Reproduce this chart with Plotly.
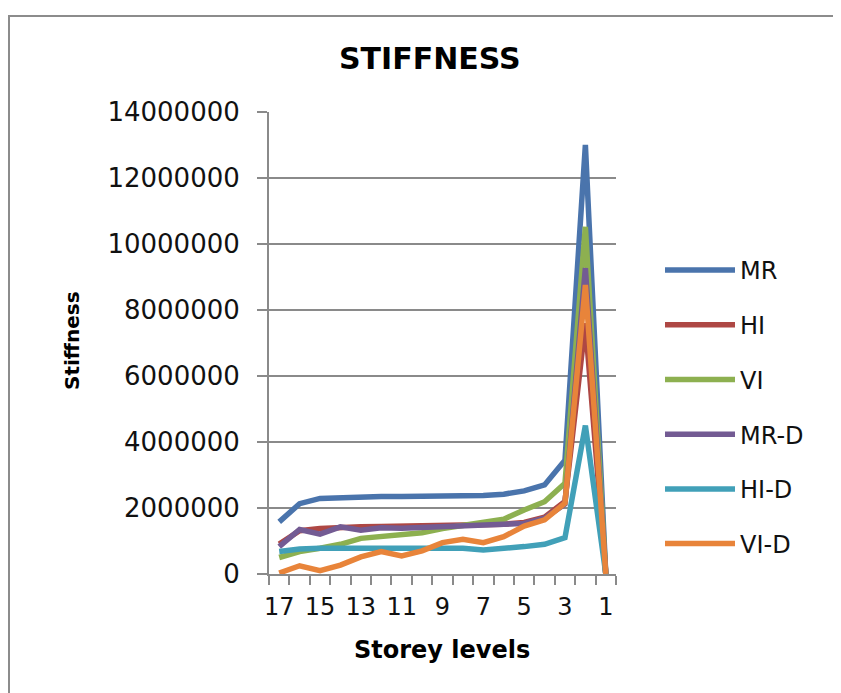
import plotly.graph_objects as go

storey = [17, 16, 15, 14, 13, 12, 11, 10, 9, 8, 7, 6, 5, 4, 3, 2, 1]

MR   = [1580000, 2130000, 2290000, 2320000, 2340000, 2350000, 2350000, 2350000, 2350000, 2360000, 2380000, 2420000, 2520000, 2700000, 3450000, 13000000, 0]
HI   = [910000, 1310000, 1380000, 1420000, 1430000, 1440000, 1450000, 1460000, 1470000, 1480000, 1490000, 1510000, 1560000, 1720000, 2200000, 7600000, 0]
VI   = [500000, 680000, 780000, 900000, 1080000, 1150000, 1200000, 1250000, 1380000, 1480000, 1550000, 1660000, 1940000, 2190000, 2750000, 10520000, 0]
MR_D = [830000, 1350000, 1210000, 1430000, 1330000, 1400000, 1390000, 1410000, 1430000, 1450000, 1460000, 1480000, 1530000, 1690000, 2120000, 9270000, 0]
HI_D = [680000, 760000, 780000, 780000, 770000, 760000, 760000, 760000, 770000, 780000, 730000, 770000, 830000, 900000, 1100000, 4500000, 0]
VI_D = [30000, 250000, 100000, 270000, 520000, 680000, 550000, 700000, 950000, 1050000, 950000, 1130000, 1450000, 1640000, 2150000, 8760000, 0]

series = [
    ("MR", MR, "#4A74AC"),
    ("HI", HI, "#AE4744"),
    ("VI", VI, "#8DB050"),
    ("MR-D", MR_D, "#735B93"),
    ("HI-D", HI_D, "#41A0B8"),
    ("VI-D", VI_D, "#E8843A"),
]

x_ticks = [17, 15, 13, 11, 9, 7, 5, 3, 1]
y_ticks = [0, 2000000, 4000000, 6000000, 8000000, 10000000, 12000000, 14000000]

fig = go.Figure()
for name, vals, col in series:
    fig.add_trace(go.Scatter(
        x=storey, y=vals, name=name, mode="lines",
        line=dict(color=col, width=5.5),
        legendgroup=name,
    ))

# the page body adds an 8px offset; work in window pixels and subtract it
OFF = 8
W, H = 841 - OFF, 693 - OFF
L, R, T, B = 269 - OFF, 616 - OFF, 112 - OFF, 574 - OFF

def px(xp):
    return (xp - OFF - L) / (R - L)

def py(yp):
    return (B - (yp - OFF)) / (B - T)

grid = "#8A8A8A"
fig.update_layout(
    width=W, height=H,
    margin=dict(l=L, r=W - R, t=T, b=H - B),
    paper_bgcolor="white", plot_bgcolor="white",
    font=dict(family="DejaVu Sans", color="#111111"),
    showlegend=True,
    legend=dict(
        x=px(660), y=py(248), xanchor="left", yanchor="top",
        font=dict(size=24, family="DejaVu Sans", color="#111111"),
        tracegroupgap=20.5, itemwidth=70,
        bgcolor="rgba(0,0,0,0)",
    ),
    xaxis=dict(
        range=[17.5, 0.5],
        tickmode="array", tickvals=x_ticks, ticktext=[str(v) for v in x_ticks],
        ticks="", showgrid=False,
        showline=True, linecolor=grid, linewidth=2,
        tickfont=dict(size=24, family="DejaVu Sans", color="#111111"),
        ticklabelstandoff=10,
        minor=dict(ticks="outside", ticklen=9, tickwidth=2, tickcolor=grid,
                   tick0=0.5, dtick=1, showgrid=False),
        zeroline=False,
    ),
    yaxis=dict(
        range=[0, 14000000],
        tickmode="array", tickvals=y_ticks, ticktext=[str(v) for v in y_ticks],
        ticks="outside", ticklen=10, tickwidth=2, tickcolor=grid,
        showgrid=True, gridcolor=grid, gridwidth=2,
        showline=True, linecolor=grid, linewidth=2,
        tickfont=dict(size=26, family="DejaVu Sans", color="#111111"),
        ticklabelstandoff=12,
        zeroline=False,
    ),
    annotations=[
        dict(text="<b>STIFFNESS</b>", x=px(430), y=py(58), xref="paper", yref="paper",
             showarrow=False, xanchor="center", yanchor="middle",
             font=dict(size=30, family="DejaVu Sans", color="#000000")),
        dict(text="<b>Stiffness</b>", x=px(72), y=py(341), xref="paper", yref="paper",
             showarrow=False, xanchor="center", yanchor="middle", textangle=-90,
             font=dict(size=20, family="DejaVu Sans", color="#000000")),
        dict(text="<b>Storey levels</b>", x=px(442), y=py(650), xref="paper", yref="paper",
             showarrow=False, xanchor="center", yanchor="middle",
             font=dict(size=24, family="DejaVu Sans", color="#000000")),
    ],
    shapes=[
        dict(type="line", xref="paper", yref="paper",
             x0=px(9), x1=px(9), y0=py(16), y1=py(720),
             line=dict(color="#8C8C8C", width=2), layer="below"),
        dict(type="line", xref="paper", yref="paper",
             x0=px(8), x1=px(860), y0=py(16), y1=py(16),
             line=dict(color="#8C8C8C", width=2), layer="below"),
    ],
)

fig.write_html("out.html")
